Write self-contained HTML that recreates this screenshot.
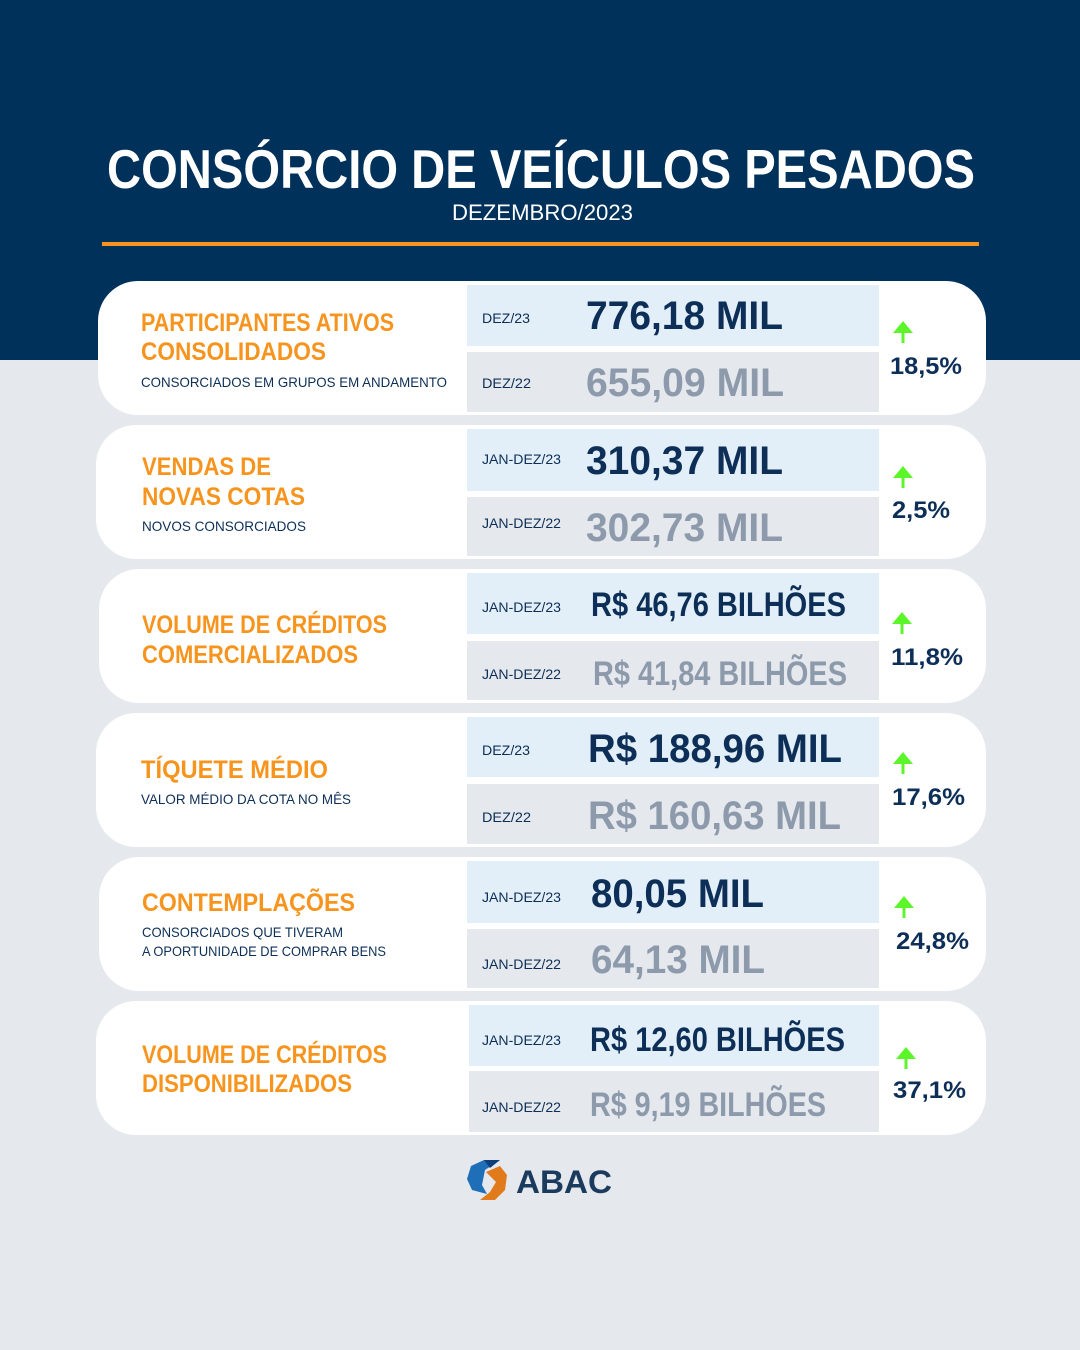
<!DOCTYPE html>
<html><head><meta charset="utf-8"><style>
html,body{margin:0;padding:0;background:#e5e8ed}
svg{display:block}
text{font-family:"Liberation Sans",sans-serif;font-weight:bold}
</style></head><body>
<svg width="1080" height="1350" viewBox="0 0 1080 1350" xmlns="http://www.w3.org/2000/svg">
<rect width="1080" height="1350" fill="#e5e8ed"/>
<rect width="1080" height="360" fill="#00315a"/>
<text x="107" y="188" font-size="55" fill="#fff" textLength="868" lengthAdjust="spacingAndGlyphs">CONSÓRCIO DE VEÍCULOS PESADOS</text>
<text x="452" y="220" font-size="22" fill="#fff" font-weight="normal" style="font-weight:normal" textLength="181" lengthAdjust="spacingAndGlyphs">DEZEMBRO/2023</text>
<rect x="102" y="242" width="877" height="4" fill="#f7941d"/>

<g id="cards">
<!-- card 1 -->
<rect x="98" y="281" width="888" height="134" rx="40" fill="#fff"/>
<rect x="467" y="285" width="412" height="61" fill="#e3eff8"/>
<rect x="467" y="352" width="412" height="60" fill="#e5e8ed"/>
<text x="141" y="331" font-size="25" fill="#f7941d" textLength="253" lengthAdjust="spacingAndGlyphs">PARTICIPANTES ATIVOS</text>
<text x="141" y="360" font-size="25" fill="#f7941d" textLength="185" lengthAdjust="spacingAndGlyphs">CONSOLIDADOS</text>
<text x="141" y="387" font-size="14" fill="#0d2f57" style="font-weight:normal" textLength="306" lengthAdjust="spacingAndGlyphs">CONSORCIADOS EM GRUPOS EM ANDAMENTO</text>
<text x="482" y="323" font-size="14" fill="#0d2f57" style="font-weight:normal" textLength="48" lengthAdjust="spacingAndGlyphs">DEZ/23</text>
<text x="482" y="388" font-size="14" fill="#0d2f57" style="font-weight:normal" textLength="49" lengthAdjust="spacingAndGlyphs">DEZ/22</text>
<text x="586" y="329" font-size="40" fill="#0d2f57" textLength="197" lengthAdjust="spacingAndGlyphs">776,18 MIL</text>
<text x="586" y="396" font-size="40" fill="#8c9aab" textLength="198" lengthAdjust="spacingAndGlyphs">655,09 MIL</text>
<path d="M893 333 L903 321 L913 333 Z M901.5 332 h3 v11 h-3 Z" fill="#5cf52a"/>
<text x="890" y="374" font-size="24" fill="#0d2f57" textLength="72" lengthAdjust="spacingAndGlyphs">18,5%</text>

<!-- card 2 -->
<rect x="96" y="425" width="890" height="134" rx="40" fill="#fff"/>
<rect x="467" y="429" width="412" height="62" fill="#e3eff8"/>
<rect x="467" y="497" width="412" height="59" fill="#e5e8ed"/>
<text x="142" y="475" font-size="25" fill="#f7941d" textLength="129" lengthAdjust="spacingAndGlyphs">VENDAS DE</text>
<text x="142" y="505" font-size="25" fill="#f7941d" textLength="163" lengthAdjust="spacingAndGlyphs">NOVAS COTAS</text>
<text x="142" y="531" font-size="14" fill="#0d2f57" style="font-weight:normal" textLength="164" lengthAdjust="spacingAndGlyphs">NOVOS CONSORCIADOS</text>
<text x="482" y="464" font-size="14" fill="#0d2f57" style="font-weight:normal" textLength="79" lengthAdjust="spacingAndGlyphs">JAN-DEZ/23</text>
<text x="482" y="528" font-size="14" fill="#0d2f57" style="font-weight:normal" textLength="79" lengthAdjust="spacingAndGlyphs">JAN-DEZ/22</text>
<text x="586" y="474" font-size="40" fill="#0d2f57" textLength="197" lengthAdjust="spacingAndGlyphs">310,37 MIL</text>
<text x="586" y="541" font-size="40" fill="#8c9aab" textLength="197" lengthAdjust="spacingAndGlyphs">302,73 MIL</text>
<path d="M893 478 L903 466 L913 478 Z M901.5 477 h3 v11 h-3 Z" fill="#5cf52a"/>
<text x="892" y="518" font-size="24" fill="#0d2f57" textLength="58" lengthAdjust="spacingAndGlyphs">2,5%</text>

<!-- card 3 -->
<rect x="99" y="569" width="887" height="134" rx="40" fill="#fff"/>
<rect x="467" y="573" width="412" height="61" fill="#e3eff8"/>
<rect x="467" y="641" width="412" height="59" fill="#e5e8ed"/>
<text x="142" y="633" font-size="25" fill="#f7941d" textLength="245" lengthAdjust="spacingAndGlyphs">VOLUME DE CRÉDITOS</text>
<text x="142" y="663" font-size="25" fill="#f7941d" textLength="216" lengthAdjust="spacingAndGlyphs">COMERCIALIZADOS</text>
<text x="482" y="612" font-size="14" fill="#0d2f57" style="font-weight:normal" textLength="79" lengthAdjust="spacingAndGlyphs">JAN-DEZ/23</text>
<text x="482" y="679" font-size="14" fill="#0d2f57" style="font-weight:normal" textLength="79" lengthAdjust="spacingAndGlyphs">JAN-DEZ/22</text>
<text x="591" y="616" font-size="34" fill="#0d2f57" textLength="255" lengthAdjust="spacingAndGlyphs">R$ 46,76 BILHÕES</text>
<text x="593" y="685" font-size="34" fill="#8c9aab" textLength="254" lengthAdjust="spacingAndGlyphs">R$ 41,84 BILHÕES</text>
<path d="M892 624 L902 612 L912 624 Z M900.5 623 h3 v11 h-3 Z" fill="#5cf52a"/>
<text x="891" y="665" font-size="24" fill="#0d2f57" textLength="72" lengthAdjust="spacingAndGlyphs">11,8%</text>

<!-- card 4 -->
<rect x="96" y="713" width="890" height="134" rx="40" fill="#fff"/>
<rect x="467" y="717" width="412" height="60" fill="#e3eff8"/>
<rect x="467" y="784" width="412" height="60" fill="#e5e8ed"/>
<text x="141" y="778" font-size="25" fill="#f7941d" textLength="187" lengthAdjust="spacingAndGlyphs">TÍQUETE MÉDIO</text>
<text x="141" y="804" font-size="14" fill="#0d2f57" style="font-weight:normal" textLength="210" lengthAdjust="spacingAndGlyphs">VALOR MÉDIO DA COTA NO MÊS</text>
<text x="482" y="755" font-size="14" fill="#0d2f57" style="font-weight:normal" textLength="48" lengthAdjust="spacingAndGlyphs">DEZ/23</text>
<text x="482" y="822" font-size="14" fill="#0d2f57" style="font-weight:normal" textLength="49" lengthAdjust="spacingAndGlyphs">DEZ/22</text>
<text x="588" y="762" font-size="40" fill="#0d2f57" textLength="254" lengthAdjust="spacingAndGlyphs">R$ 188,96 MIL</text>
<text x="588" y="829" font-size="40" fill="#8c9aab" textLength="253" lengthAdjust="spacingAndGlyphs">R$ 160,63 MIL</text>
<path d="M893 764 L903 752 L913 764 Z M901.5 763 h3 v11 h-3 Z" fill="#5cf52a"/>
<text x="892" y="805" font-size="24" fill="#0d2f57" textLength="73" lengthAdjust="spacingAndGlyphs">17,6%</text>

<!-- card 5 -->
<rect x="99" y="857" width="887" height="134" rx="40" fill="#fff"/>
<rect x="467" y="861" width="412" height="62" fill="#e3eff8"/>
<rect x="467" y="929" width="412" height="59" fill="#e5e8ed"/>
<text x="142" y="911" font-size="25" fill="#f7941d" textLength="213" lengthAdjust="spacingAndGlyphs">CONTEMPLAÇÕES</text>
<text x="142" y="937" font-size="14" fill="#0d2f57" style="font-weight:normal" textLength="201" lengthAdjust="spacingAndGlyphs">CONSORCIADOS QUE TIVERAM</text>
<text x="142" y="956" font-size="14" fill="#0d2f57" style="font-weight:normal" textLength="244" lengthAdjust="spacingAndGlyphs">A OPORTUNIDADE DE COMPRAR BENS</text>
<text x="482" y="902" font-size="14" fill="#0d2f57" style="font-weight:normal" textLength="79" lengthAdjust="spacingAndGlyphs">JAN-DEZ/23</text>
<text x="482" y="969" font-size="14" fill="#0d2f57" style="font-weight:normal" textLength="79" lengthAdjust="spacingAndGlyphs">JAN-DEZ/22</text>
<text x="591" y="907" font-size="40" fill="#0d2f57" textLength="173" lengthAdjust="spacingAndGlyphs">80,05 MIL</text>
<text x="591" y="973" font-size="40" fill="#8c9aab" textLength="174" lengthAdjust="spacingAndGlyphs">64,13 MIL</text>
<path d="M894 908 L904 896 L914 908 Z M902.5 907 h3 v11 h-3 Z" fill="#5cf52a"/>
<text x="896" y="949" font-size="24" fill="#0d2f57" textLength="73" lengthAdjust="spacingAndGlyphs">24,8%</text>

<!-- card 6 -->
<rect x="96" y="1001" width="890" height="134" rx="40" fill="#fff"/>
<rect x="469" y="1005" width="410" height="61" fill="#e3eff8"/>
<rect x="469" y="1071" width="410" height="61" fill="#e5e8ed"/>
<text x="142" y="1063" font-size="25" fill="#f7941d" textLength="245" lengthAdjust="spacingAndGlyphs">VOLUME DE CRÉDITOS</text>
<text x="142" y="1092" font-size="25" fill="#f7941d" textLength="210" lengthAdjust="spacingAndGlyphs">DISPONIBILIZADOS</text>
<text x="482" y="1045" font-size="14" fill="#0d2f57" style="font-weight:normal" textLength="79" lengthAdjust="spacingAndGlyphs">JAN-DEZ/23</text>
<text x="482" y="1112" font-size="14" fill="#0d2f57" style="font-weight:normal" textLength="79" lengthAdjust="spacingAndGlyphs">JAN-DEZ/22</text>
<text x="590" y="1051" font-size="34" fill="#0d2f57" textLength="255" lengthAdjust="spacingAndGlyphs">R$ 12,60 BILHÕES</text>
<text x="590" y="1116" font-size="34" fill="#8c9aab" textLength="236" lengthAdjust="spacingAndGlyphs">R$ 9,19 BILHÕES</text>
<path d="M896 1059 L906 1047 L916 1059 Z M904.5 1058 h3 v11 h-3 Z" fill="#5cf52a"/>
<text x="893" y="1098" font-size="24" fill="#0d2f57" textLength="73" lengthAdjust="spacingAndGlyphs">37,1%</text>
</g>

<!-- logo -->
<path d="M484 1160 L500 1160 L485 1170 L482 1185 L487 1194 L472 1190 L467 1179 L471 1166 Z" fill="#1f6fb8"/>
<path d="M486 1172 L500 1166 L507 1175 L505 1190 L495 1200 L480 1200 L490 1192 L496 1182 Z" fill="#e07a1a"/>
<path d="M484 1160 L500 1160 L490 1168 Z" fill="#0d3f7a"/>
<text x="516" y="1193" font-size="32" fill="#1a3a5e" textLength="96" lengthAdjust="spacingAndGlyphs">ABAC</text>
</svg>
</body></html>
